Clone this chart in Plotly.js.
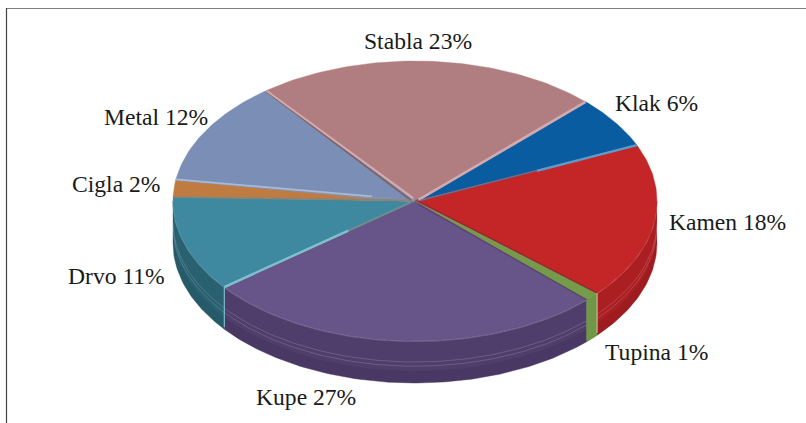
<!DOCTYPE html>
<html><head><meta charset="utf-8">
<script src="https://cdn.plot.ly/plotly-3.0.1.min.js"></script>
<style>html,body{margin:0;padding:0;background:#fff}#c{width:806px;height:423px}</style></head>
<body><div id="c"></div>
<script>
var categories = ["Stabla","Klak","Kamen","Tupina","Kupe","Drvo","Cigla","Metal"];
var values = [23,6,18,1,27,11,2,12];
var topColors = ["#B07D80","#0A5CA0","#C42527","#749A4A","#67558A","#3F89A0","#C07C40","#7B8FB6"];
var sideColors = ["#8E6265","#084A80","#AB1F23","#6F9746","#4F3D6C","#2A6171","#9A6030","#5F7090"];
var labelX = [418,656,727,656,306,116,116,156];
var labelY = [41,103,222,352,397,276,184,117];

var W=806,H=423,CX=415,CY=201,RX=242,RY=140,DEPTH=0.3,START=-38;
var rad=function(d){return d*Math.PI/180;};
var px=function(d){return Math.sin(rad(d));};
var py=function(d){return Math.cos(rad(d));};
var traces=[];
var total=values.reduce(function(a,b){return a+b;},0);
var angles=[START];
values.forEach(function(v,i){angles.push(angles[i]+v/total*360);});

function arc(a0,a1,dy){
  var xs=[],ys=[],n=Math.max(2,Math.ceil(Math.abs(a1-a0)));
  for(var k=0;k<=n;k++){var a=a0+(a1-a0)*k/n;xs.push(px(a));ys.push(py(a)-(dy||0));}
  return {x:xs,y:ys};
}
function poly(x,y,color){
  traces.push({type:'scatter',mode:'lines',x:x,y:y,fill:'toself',fillcolor:color,
    line:{color:color,width:0.4},hoverinfo:'skip',showlegend:false});
}
function line(x,y,color,w){
  traces.push({type:'scatter',mode:'lines',x:x,y:y,line:{color:color,width:w},hoverinfo:'skip',showlegend:false});
}
// side walls (only the part facing the viewer)
categories.forEach(function(c,i){
  var a0=Math.max(angles[i],90),a1=Math.min(angles[i+1],270);
  if(a1<=a0)return;
  var t=arc(a0,a1,0),b=arc(a1,a0,DEPTH);
  poly(t.x.concat(b.x),t.y.concat(b.y),sideColors[i]);
  var u=arc(a0,a1,DEPTH*0.72),v=arc(a1,a0,DEPTH);
  poly(u.x.concat(v.x),u.y.concat(v.y),'rgba(0,0,0,0.07)');
  var s1=arc(a0,a1,DEPTH*0.5),s2=arc(a0,a1,DEPTH*0.6);
  line(s1.x,s1.y,'rgba(255,255,255,0.32)',0.5);
  line(s2.x,s2.y,'rgba(255,255,255,0.32)',0.5);
  var h=arc(a0,a1,0.004);
  line(h.x,h.y,'rgba(255,255,255,0.32)',0.6);
});
// wedge tops
categories.forEach(function(c,i){
  var t=arc(angles[i],angles[i+1],0);
  poly([0].concat(t.x,[0]),[0].concat(t.y,[0]),topColors[i]);
});
// bevels along wedge edges: boundary index, inner radius, x shift, y shift, colour, width
var bevels=[
 [0,0.02,-0.003,-0.012,"#7E6468",1.8],
 [0,0.02, 0.005, 0.005,"#D4AAAE",2.0],
 [1,0.02, 0.000,-0.007,"#D4AAAE",2.6],
 [2,0.02, 0.000,-0.005,"#4C7CA8",1.2],
 [2,0.55, 0.000,-0.005,"#5C9CCB",2.4],
 [5,0.02, 0.000, 0.004,"#6C8E8C",1.8],
 [5,0.35, 0.000, 0.004,"#7FC0CE",2.4],
 [7,0.02, 0.000,-0.005,"#8892A8",2.2],
 [7,0.18, 0.000, 0.005,"#A9BAD6",1.8],
 [6,0.02, 0.000, 0.004,"#8A8478",1.6],
 [3,0.02, 0.004, 0.006,"#8E2C34",1.3],
 [4,0.02,-0.002,-0.007,"#5A4260",1.1]
];
bevels.forEach(function(b){
  var a=angles[b[0]];
  line([b[1]*px(a)+b[2],px(a)+b[2]*0.2],[b[1]*py(a)+b[3],py(a)+b[3]*0.2],b[4],b[5]);
});
// tupina face on the wall sits in front
var ta=arc(angles[3],angles[4],0),tb=arc(angles[4],angles[3],DEPTH);
poly(ta.x.concat(tb.x),ta.y.concat(tb.y),sideColors[3]);
// light vertical edges on the wall
[[3,"rgba(255,205,205,0.7)"],[5,"#7FC0CE"]].forEach(function(e){
  var a=angles[e[0]];
  line([px(a),px(a)],[py(a),py(a)-DEPTH*0.95],e[1],1.1);
});

var annotations=categories.map(function(c,i){
  return {text:c+" "+values[i]+"%",xref:'paper',yref:'paper',x:labelX[i]/W,y:1-labelY[i]/H,
    xanchor:'center',yanchor:'middle',showarrow:false,
    font:{family:'"Liberation Serif",serif',size:23.6,color:'#1a1a1a'}};
});
var layout={width:W,height:H,margin:{l:0,r:0,t:0,b:0},paper_bgcolor:'#fff',plot_bgcolor:'#fff',showlegend:false,
  xaxis:{visible:false,range:[-CX/RX,(W-CX)/RX],fixedrange:true},
  yaxis:{visible:false,range:[(CY-H)/RY,CY/RY],fixedrange:true},
  annotations:annotations,
  shapes:[
   {type:'line',xref:'paper',yref:'paper',x0:6/W,x1:1,y0:1-8.5/H,y1:1-8.5/H,line:{color:'#808080',width:1.2}},
   {type:'line',xref:'paper',yref:'paper',x0:6.5/W,x1:6.5/W,y0:1-8/H,y1:0,line:{color:'#444',width:1.2}}
  ]};
Plotly.newPlot('c',traces,layout,{staticPlot:true,displayModeBar:false});
</script></body></html>
